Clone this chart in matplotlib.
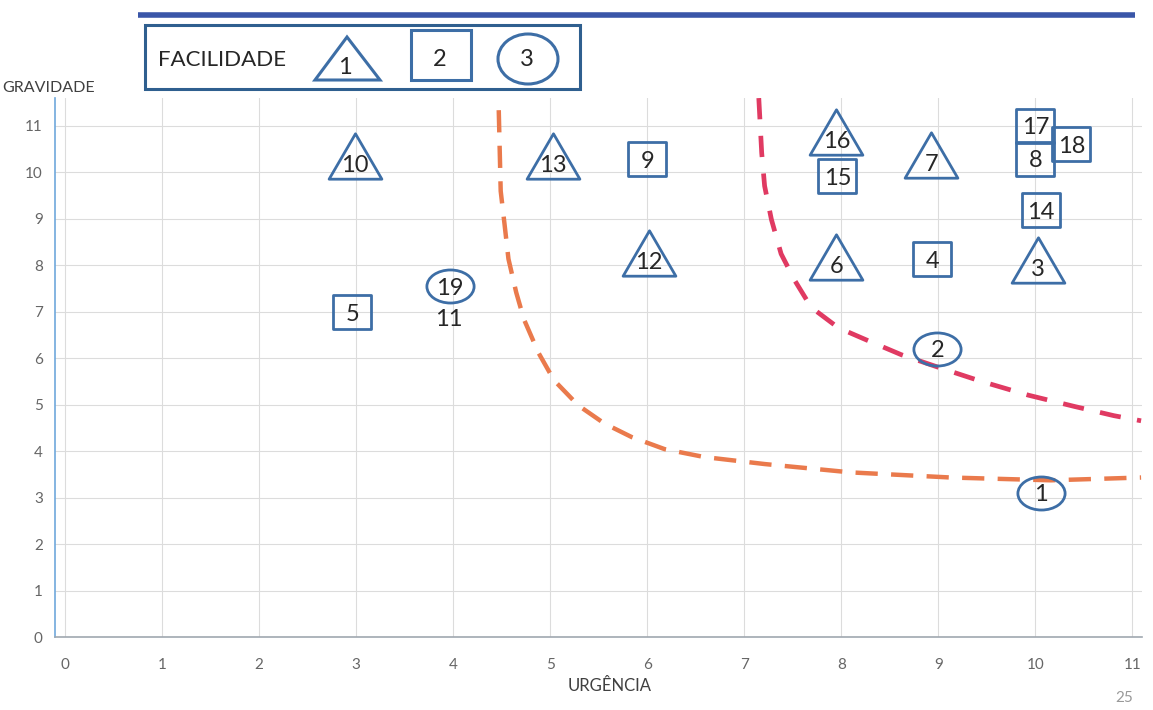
import numpy as np
import matplotlib
matplotlib.use("Agg")
import matplotlib.pyplot as plt
from matplotlib.path import Path
from matplotlib.patches import Rectangle, Ellipse, Polygon

plt.rcParams['font.family'] = ['Lato', 'DejaVu Sans']

# pontos: (urgência, gravidade), rótulo, facilidade (1=triângulo, 2=quadrado, 3=círculo)
urgencia = [10.06, 8.99, 10.03, 8.94, 2.96, 7.95, 8.93, 10.0, 6.0, 2.99,
            6.02, 5.03, 10.06, 7.96, 7.95, 10.0, 10.37, 3.97]
gravidade = [3.1, 6.2, 8.11, 8.12, 6.99, 8.17, 10.37, 10.29, 10.28, 10.35,
             8.26, 10.35, 9.18, 9.91, 10.87, 11.0, 10.6, 7.54]
rotulos = ['1', '2', '3', '4', '5', '6', '7', '8', '9', '10',
           '12', '13', '14', '15', '16', '17', '18', '19']
facilidade = [3, 3, 1, 2, 2, 1, 1, 2, 2, 1,
              1, 1, 2, 2, 1, 2, 2, 3]

# item 11 sem marcador
item11 = (3.95, 6.83)

# curvas tracejadas
curva1_x = [4.47, 4.49, 4.53, 4.57, 4.65, 4.73, 4.88, 5.04, 5.29, 5.56, 5.84,
            6.18, 6.59, 7.21, 8.10, 9.13, 10.16, 11.09]
curva1_y = [11.33, 9.59, 8.87, 8.13, 7.41, 6.83, 6.11, 5.52, 4.98, 4.59, 4.30,
            4.04, 3.87, 3.72, 3.54, 3.43, 3.37, 3.43]
curva2_x = [7.15, 7.18, 7.21, 7.28, 7.38, 7.52, 7.69, 7.97, 8.28, 8.62, 9.03,
            9.44, 9.93, 10.40, 10.81, 11.09]
curva2_y = [11.59, 10.41, 9.70, 8.98, 8.24, 7.67, 7.09, 6.65, 6.37, 6.07, 5.78,
            5.50, 5.20, 4.96, 4.76, 4.65]

ticks_x = list(range(0, 12))
ticks_y = list(range(0, 12))

azul = '#3d6ea6'
texto = '#262626'

# marcadores
tri = Path([(-1, -0.86), (1, -0.86), (0, 0.86), (-1, -0.86)],
           [Path.MOVETO, Path.LINETO, Path.LINETO, Path.CLOSEPOLY])
quad = Path([(-1, -0.9), (1, -0.9), (1, 0.9), (-1, 0.9), (-1, -0.9)],
            [Path.MOVETO, Path.LINETO, Path.LINETO, Path.LINETO, Path.CLOSEPOLY])
circ = Path.unit_circle()
circ = Path(circ.vertices * np.array([1.0, 0.7]), circ.codes)
formas = {1: (tri, 38), 2: (quad, 27), 3: (circ, 34)}

fig = plt.figure(figsize=(11.53, 7.10), dpi=100)
ax = fig.add_axes([0.048, 0.1028, 0.9425, 0.7597])

ax.plot(curva1_x, curva1_y, color='#ea7a4c', lw=3.2, dashes=(5, 3), zorder=2)
ax.plot(curva2_x, curva2_y, color='#e03a62', lw=3.4, dashes=(4.5, 3.5), zorder=2)

for x, y, r, f in zip(urgencia, gravidade, rotulos, facilidade):
    m, ms = formas[f]
    ax.plot(x, y, marker=m, ms=ms, mfc='none', mec=azul, mew=2.0, ls='none', zorder=3)
    dy = -7 if f == 1 else -1.5
    ax.annotate(r, (x, y), xytext=(0, dy), textcoords='offset points',
                ha='center', va='center', fontsize=17, color=texto, zorder=4)

ax.text(item11[0], item11[1], '11', ha='center', va='center', fontsize=17, color=texto)

ax.set_xlim(-0.1, 11.1)
ax.set_ylim(0, 11.6)
ax.set_xticks(ticks_x)
ax.set_yticks(ticks_y)
ax.grid(True, color='#dcdcdc', lw=0.8)
ax.set_axisbelow(True)
ax.tick_params(length=0, labelsize=11, labelcolor='#666666')
ax.tick_params(axis='x', pad=15)
ax.tick_params(axis='y', pad=9)
for s in ['top', 'right']:
    ax.spines[s].set_visible(False)
ax.spines['left'].set_color('#6fa8dc')
ax.spines['left'].set_linewidth(1.2)
ax.spines['bottom'].set_color('#a0a8b0')
ax.spines['bottom'].set_linewidth(1.2)

# camada em pixels para legenda e textos soltos
ov = fig.add_axes([0, 0, 1, 1])
ov.set_xlim(0, 1153)
ov.set_ylim(710, 0)
ov.axis('off')
ov.patch.set_visible(False)

ov.plot([138, 1135], [15, 15], color='#3a56a8', lw=4, solid_capstyle='butt')
ov.add_patch(Rectangle((145, 25), 435, 64, fill=False, ec='#2f5f8f', lw=2.2))
ov.text(158, 60, 'FACILIDADE', fontsize=16, color=texto, va='center', ha='left')
ov.add_patch(Polygon([(315, 80), (380, 80), (347, 37)], closed=True, fill=False, ec=azul, lw=2.2))
ov.text(345, 67, '1', fontsize=17, color=texto, ha='center', va='center')
ov.add_patch(Rectangle((411, 30), 60, 50, fill=False, ec=azul, lw=2.2))
ov.text(440, 60, '2', fontsize=17, color=texto, ha='center', va='center')
ov.add_patch(Ellipse((528, 59), 60, 50, fill=False, ec=azul, lw=2.2))
ov.text(527, 60, '3', fontsize=17, color=texto, ha='center', va='center')

ov.text(2, 88, 'GRAVIDADE', fontsize=11.5, color='#404040', ha='left', va='center')
ov.text(610, 686, 'URGÊNCIA', fontsize=12, color='#404040', ha='center', va='center')
ov.text(1124, 698, '25', fontsize=11, color='#999999', ha='center', va='center')

fig.savefig('out.png', dpi=100)
